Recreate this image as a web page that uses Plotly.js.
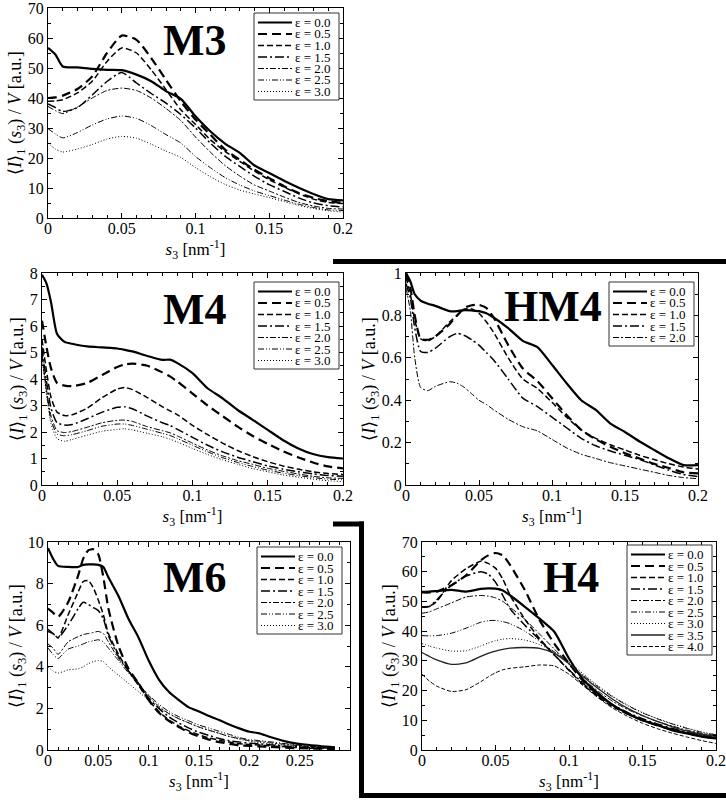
<!DOCTYPE html>
<html><head><meta charset="utf-8">
<script src="https://cdn.plot.ly/plotly-3.0.1.min.js"></script>
<style>html,body{margin:0;padding:0;background:#fff}#chart{width:726px;height:800px}</style>
</head><body><div id="chart"></div>
<script>
// ---------------- data ----------------
const epsLabels = ['ε = 0.0','ε = 0.5','ε = 1.0','ε = 1.5','ε = 2.0','ε = 2.5','ε = 3.0','ε = 3.5','ε = 4.0'];
const panelNames = ['M3','M4','HM4','M6','H4'];

// M3
const xM3 = [0,0.005,0.01,0.02,0.03,0.04,0.05,0.06,0.07,0.08,0.09,0.1,0.11,0.12,0.13,0.14,0.15,0.16,0.17,0.18,0.19,0.2];
const m3_e00 = [56.7,54.5,50.5,50.2,49.7,49.4,49.3,47.8,45.6,42.3,39.7,33.9,28.9,24.8,21.7,17.5,15,12.4,10.1,8,6.3,5.9];
const m3_e05 = [40,40.2,40.8,43,47.2,55,60.8,59.4,53.3,46,38.9,32.8,27.8,22.8,19.4,16.1,13.3,10.6,8.3,6.7,5.6,5];
const m3_e10 = [38.9,39,39.4,41.7,45.6,52.2,56.7,55,49.4,42.8,36.1,31.2,26.1,22.2,18.9,15.6,12.8,10.3,8.1,6.3,5.2,4.8];
const m3_e15 = [38,36.8,35.5,36.8,41,45.5,48.5,45,41.5,38.3,34.5,30,25,20.6,17.2,13.9,11.1,8.9,6.7,5,4.1,3.7];
const m3_e20 = [37.2,35.8,34.8,37,40,42.5,43.3,42.5,40,36.5,32.5,27,22,17.5,14,11,9,7,5.2,4,3.2,3];
const m3_e25 = [29.8,28,26.7,28.5,31,33,34,33.2,30.8,27.8,25,20.5,16.8,13.5,11,9,7.5,6,4.6,3.5,2.7,2.5];
const m3_e30 = [25,23,22,23,24.5,26.3,27.2,26.6,24.6,22.3,20.2,16.8,13.8,11.2,9.3,8,6.8,5.5,4.2,3.2,2.4,2];

// M4
const xM4 = [0,0.003,0.006,0.01,0.015,0.02,0.03,0.04,0.05,0.055,0.06,0.07,0.08,0.085,0.09,0.1,0.11,0.12,0.13,0.14,0.15,0.16,0.17,0.18,0.19,0.2];
const m4_e00 = [7.93,7.6,6.9,5.7,5.4,5.33,5.23,5.19,5.15,5.1,5.04,4.87,4.72,4.73,4.6,4.22,3.65,3.27,2.83,2.46,2.08,1.7,1.39,1.17,1.05,1.0];
const m4_e05 = [6.2,5.2,4.4,3.85,3.75,3.73,3.85,4.15,4.45,4.55,4.58,4.5,4.25,4.1,3.9,3.45,3.0,2.6,2.2,1.85,1.55,1.28,1.05,0.85,0.7,0.63];
const m4_e10 = [5.5,4.3,3.3,2.75,2.62,2.65,2.9,3.3,3.62,3.68,3.6,3.3,2.95,2.8,2.65,2.25,1.9,1.58,1.3,1.07,0.88,0.72,0.6,0.5,0.43,0.4];
const m4_e15 = [5.2,3.9,2.9,2.35,2.26,2.28,2.5,2.75,2.93,2.95,2.88,2.6,2.35,2.25,2.1,1.8,1.5,1.25,1.05,0.88,0.72,0.6,0.5,0.42,0.36,0.33];
const m4_e20 = [5.0,3.6,2.6,2.05,1.98,2.02,2.18,2.35,2.44,2.45,2.4,2.2,2.05,1.97,1.85,1.58,1.32,1.1,0.92,0.78,0.63,0.52,0.42,0.33,0.27,0.25];
const m4_e25 = [4.9,3.5,2.45,1.92,1.86,1.9,2.05,2.22,2.3,2.3,2.25,2.1,1.95,1.87,1.75,1.5,1.25,1.03,0.85,0.7,0.56,0.45,0.36,0.28,0.22,0.2];
const m4_e30 = [4.8,3.4,2.3,1.75,1.65,1.72,1.88,2.03,2.1,2.12,2.08,1.95,1.82,1.73,1.62,1.38,1.15,0.95,0.78,0.62,0.5,0.38,0.3,0.22,0.16,0.13];

// HM4
const xHM4 = [0,0.003,0.006,0.01,0.015,0.02,0.03,0.035,0.04,0.045,0.05,0.055,0.06,0.07,0.08,0.09,0.1,0.11,0.12,0.13,0.14,0.15,0.16,0.17,0.18,0.19,0.2];
const hm4_e00 = [1.0,0.96,0.9,0.87,0.855,0.845,0.82,0.82,0.825,0.823,0.82,0.81,0.79,0.74,0.68,0.65,0.567,0.48,0.4,0.354,0.29,0.25,0.205,0.165,0.126,0.094,0.094];
const hm4_e05 = [1.0,0.93,0.8,0.69,0.685,0.7,0.76,0.8,0.835,0.848,0.85,0.835,0.79,0.66,0.55,0.49,0.41,0.33,0.26,0.215,0.18,0.15,0.125,0.1,0.08,0.06,0.055];
const hm4_e10 = [0.98,0.9,0.78,0.69,0.68,0.7,0.77,0.8,0.83,0.83,0.81,0.77,0.72,0.6,0.5,0.455,0.39,0.32,0.26,0.22,0.19,0.165,0.14,0.12,0.1,0.085,0.075];
const hm4_e15 = [0.95,0.88,0.74,0.63,0.625,0.645,0.7,0.715,0.705,0.685,0.66,0.625,0.59,0.5,0.41,0.37,0.32,0.27,0.22,0.185,0.16,0.14,0.12,0.095,0.07,0.05,0.04];
const hm4_e20 = [0.93,0.82,0.6,0.46,0.445,0.465,0.487,0.48,0.46,0.43,0.4,0.38,0.355,0.31,0.275,0.255,0.215,0.175,0.145,0.125,0.105,0.09,0.075,0.06,0.045,0.035,0.03];

// M6
const xM6 = [0,0.005,0.01,0.02,0.03,0.035,0.04,0.045,0.05,0.055,0.06,0.07,0.08,0.09,0.1,0.11,0.12,0.13,0.14,0.15,0.16,0.17,0.18,0.19,0.2,0.21,0.22,0.24,0.26,0.285];
const m6_e00 = [9.7,9.2,8.85,8.8,8.8,8.9,8.92,8.92,8.9,8.8,8.3,7.4,6.3,5.4,4.3,3.4,2.8,2.4,2.05,1.85,1.63,1.44,1.23,1.04,0.88,0.8,0.64,0.37,0.24,0.13];
const m6_e05 = [6.8,6.6,6.4,7.1,8.4,9.2,9.6,9.65,9.4,8.3,6.8,5.0,3.9,3.2,2.4,1.8,1.4,1.1,0.85,0.65,0.5,0.38,0.3,0.22,0.2,0.17,0.15,0.1,0.07,0.05];
const m6_e10 = [5.7,5.6,5.4,6.5,7.6,8.1,8.15,7.8,7.2,6.5,5.6,4.6,3.8,3.1,2.4,1.85,1.45,1.15,0.92,0.73,0.58,0.47,0.38,0.3,0.27,0.24,0.2,0.14,0.09,0.06];
const m6_e15 = [5.8,5.6,5.4,6.0,6.8,7.1,7.0,6.85,6.7,6.3,5.5,4.5,3.8,3.2,2.5,2.0,1.6,1.3,1.05,0.85,0.7,0.55,0.45,0.38,0.33,0.3,0.25,0.17,0.12,0.08];
const m6_e20 = [5.1,4.9,4.6,5.2,5.45,5.55,5.6,5.65,5.7,5.6,5.2,4.4,3.8,3.2,2.6,2.1,1.75,1.5,1.3,1.1,0.95,0.8,0.65,0.55,0.45,0.42,0.35,0.25,0.15,0.1];
const m6_e25 = [4.9,4.6,4.4,4.85,5.0,5.1,5.2,5.25,5.3,5.2,4.9,4.3,3.7,3.15,2.65,2.2,1.85,1.6,1.4,1.2,1.05,0.9,0.75,0.6,0.5,0.45,0.4,0.28,0.18,0.12];
const m6_e30 = [4.0,3.8,3.7,3.85,3.9,4.0,4.15,4.25,4.3,4.25,4.0,3.6,3.2,2.8,2.4,2.05,1.75,1.5,1.3,1.1,0.95,0.8,0.65,0.52,0.42,0.36,0.3,0.2,0.13,0.08];

// H4
const xH4 = [0,0.005,0.01,0.02,0.03,0.04,0.045,0.05,0.055,0.06,0.07,0.08,0.09,0.1,0.11,0.12,0.13,0.14,0.15,0.16,0.17,0.18,0.19,0.2];
const h4_e00 = [53.2,53.3,53.5,53.9,53.3,54.2,54.4,54.3,53.7,52,48.2,44.2,39.8,30.8,23.5,19,15.1,12.3,10,8.4,6.7,5.6,4.5,3.9];
const h4_e05 = [53,53,53.3,55.4,58.8,63.8,65.5,66.3,65.5,62.2,53.8,43.7,35.8,29.1,23,18.5,15,12.2,10,8.3,6.9,5.7,4.7,3.9];
const h4_e10 = [48.2,48.4,50,57,61,63.5,62.8,61.2,57.5,52,44,37.5,32,26.8,21.8,17.8,14.5,12,10,8.3,6.9,5.7,4.7,3.9];
const h4_e15 = [48,48.3,50.5,55.5,58.5,60,59.2,56.5,52,47.5,42,37,32,27,22.2,18.3,15.1,12.6,10.5,8.8,7.3,6,5,4.2];
const h4_e20 = [46,46.5,47.5,49.5,51.5,52,51.8,51.2,50,48,44,39,34,28.8,23.8,19.7,16.3,13.6,11.5,9.6,8.1,6.7,5.6,4.8];
const h4_e25 = [38.5,38.4,38.5,39.3,41,43,43.5,43.6,43.2,42.5,40,36.5,33,29.2,25,21.2,17.8,14.9,12.5,10.5,8.8,7.3,6,5.1];
const h4_e30 = [35.8,35,34.3,33.3,33.4,35,36,36.8,37.3,37.5,37,35.5,33,29.6,25.5,21.5,18,15.1,12.6,10.6,8.9,7.4,6.1,5.1];
const h4_e35 = [32.8,31.5,30.3,28.8,29.3,31.5,32.5,33.3,33.9,34.3,34.5,34.2,32.5,29,24.6,20.6,17,14,11.6,9.6,7.9,6.4,5.3,4.5];
const h4_e40 = [25.5,23.2,21.5,19.7,20.3,23,24.6,26,27,27.5,28,28.6,28.3,25.5,21.5,17.5,14,11.3,9,7.2,5.7,4.4,3.2,2.2];

const seriesM3 = [m3_e00,m3_e05,m3_e10,m3_e15,m3_e20,m3_e25,m3_e30];
const seriesM4 = [m4_e00,m4_e05,m4_e10,m4_e15,m4_e20,m4_e25,m4_e30];
const seriesHM4 = [hm4_e00,hm4_e05,hm4_e10,hm4_e15,hm4_e20];
const seriesM6 = [m6_e00,m6_e05,m6_e10,m6_e15,m6_e20,m6_e25,m6_e30];
const seriesH4 = [h4_e00,h4_e05,h4_e10,h4_e15,h4_e20,h4_e25,h4_e30,h4_e35,h4_e40];

// ---------------- styles / layout ----------------
const W = 726, H = 800;
const px = v => v / W;
const py = v => 1 - v / H;
const FONT = 'Liberation Serif, Times New Roman, Times, serif';

const lineStyles = [
  {width:2.2, dash:'solid', color:'#000'},
  {width:2.2, dash:'9px,5px', color:'#000'},
  {width:1.5, dash:'6px,3px', color:'#000'},
  {width:1.5, dash:'9px,3px,2px,3px', color:'#000'},
  {width:1, dash:'6px,2px,2px,2px', color:'#000'},
  {width:1, dash:'6px,2px,1px,2px,1px,2px', color:'#000'},
  {width:1, dash:'1px,2px', color:'#000'},
  {width:1.3, dash:'solid', color:'#222'},
  {width:1, dash:'4px,2px', color:'#000'}
];

// pad = trailing no-break spaces that shift the rotated y title along its axis
const panels = [
  {x:xM3, ys:seriesM3, box:[48,343,8,218], xr:[0,0.2], yr:[0,70], ydt:10, ymin:5, xticks:[0,0.05,0.1,0.15,0.2], lab:[195,40], leg:[254,13], pad:8},
  {x:xM4, ys:seriesM4, box:[42,343,273,485], xr:[0,0.2], yr:[0,8], ydt:1, ymin:0.5, xticks:[0,0.05,0.1,0.15,0.2], lab:[195,310], leg:[254,282], pad:2},
  {x:xHM4, ys:seriesHM4, box:[406,698,273,485], xr:[0,0.2], yr:[0,1], ydt:0.2, ymin:0.1, xticks:[0,0.05,0.1,0.15,0.2], lab:[553,306], leg:[609,282], pad:0},
  {x:xM6, ys:seriesM6, box:[48,350,542,750], xr:[0,0.3], yr:[0,10], ydt:2, ymin:1, xticks:[0,0.05,0.1,0.15,0.2,0.25], lab:[195,577], leg:[257,547], pad:8},
  {x:xH4, ys:seriesH4, box:[422,716,542,750], xr:[0,0.2], yr:[0,70], ydt:10, ymin:5, xticks:[0,0.05,0.1,0.15,0.2], lab:[571,577], leg:[627,545], pad:8}
];

const yTitle = '⟨<i>I</i>⟩<sub>1</sub> (<i>s</i><sub>3</sub>) / <i>V</i> [a.u.]';
const xTitle = '<i>s</i><sub>3</sub> [nm<sup>-1</sup>]';

const traces = [];
const layout = {
  width: W, height: H,
  margin: {l:0, r:0, t:0, b:0},
  paper_bgcolor: '#fff', plot_bgcolor: '#fff',
  showlegend: false,
  font: {family: FONT, size: 16, color: '#000'},
  shapes: [], annotations: []
};

panels.forEach((p, k) => {
  const n = k + 1;
  const xa = 'x' + (n === 1 ? '' : n), ya = 'y' + (n === 1 ? '' : n);
  const xk = 'xaxis' + (n === 1 ? '' : n), yk = 'yaxis' + (n === 1 ? '' : n);
  p.ys.forEach((ys, i) => {
    traces.push({
      x: p.x, y: ys, xaxis: xa, yaxis: ya, mode: 'lines', name: epsLabels[i],
      line: {color: lineStyles[i].color, width: lineStyles[i].width, dash: lineStyles[i].dash, shape: 'spline', smoothing: 0.6},
      hoverinfo: 'skip'
    });
  });
  const common = {
    showline: true, linecolor: '#000', linewidth: 1, mirror: 'ticks',
    ticks: 'inside', ticklen: 5, tickwidth: 1, tickcolor: '#000',
    showgrid: false, zeroline: false, fixedrange: true,
    ticklabeloverflow: 'allow',
    tickfont: {family: FONT, size: 16, color: '#000'}
  };
  layout[xk] = Object.assign({}, common, {
    domain: [px(p.box[0]), px(p.box[1])], range: p.xr, anchor: ya,
    tickmode: 'array', tickvals: p.xticks, ticktext: p.xticks.map(v => String(v)),
    ticklabelstandoff: -4,
    minor: {tickmode: 'linear', tick0: 0, dtick: 0.01, ticks: 'inside', ticklen: 3, tickcolor: '#000', showgrid: false},
    title: {text: xTitle, font: {family: FONT, size: 17}, standoff: 2}
  });
  layout[yk] = Object.assign({}, common, {
    domain: [py(p.box[3]), py(p.box[2])], range: p.yr, anchor: xa,
    tickmode: 'linear', tick0: 0, dtick: p.ydt,
    minor: {tickmode: 'linear', tick0: 0, dtick: p.ymin, ticks: 'inside', ticklen: 3, tickcolor: '#000', showgrid: false},
    title: {text: yTitle + '\u00A0'.repeat(p.pad), font: {family: FONT, size: 18}, standoff: 0}
  });
  // panel label
  layout.annotations.push({xref:'paper', yref:'paper', x: px(p.lab[0]), y: py(p.lab[1]), xanchor:'center', yanchor:'middle',
    text: '<b>' + panelNames[k] + '</b>', showarrow:false, font:{family: FONT, size: 44, color:'#000'}});
  // compact legend drawn in the panel corner
  const L = p.leg[0], T = p.leg[1], step = 11.5, nE = p.ys.length;
  layout.shapes.push({type:'rect', xref:'paper', yref:'paper', x0: px(L), x1: px(L+85), y0: py(T), y1: py(T + nE*step + 6.5),
    line:{color:'#333', width:1}, fillcolor:'#fff', layer:'above'});
  for (let i = 0; i < nE; i++) {
    const yy = T + 9.5 + step*i;
    layout.shapes.push({type:'line', xref:'paper', yref:'paper', x0: px(L+4), x1: px(L+38), y0: py(yy), y1: py(yy),
      line:{color: lineStyles[i].color, width: lineStyles[i].width, dash: lineStyles[i].dash}});
    layout.annotations.push({xref:'paper', yref:'paper', x: px(L+40), y: py(yy), xanchor:'left', yanchor:'middle',
      text: epsLabels[i], showarrow:false, borderpad:0, font:{family: FONT, size: 13, color:'#000'}});
  }
});

// thick separator lines
const thick = {color:'#000', width:5};
layout.shapes.push(
  {type:'line', xref:'paper', yref:'paper', x0:px(333), x1:px(726), y0:py(261.5), y1:py(261.5), line:thick},
  {type:'line', xref:'paper', yref:'paper', x0:px(333), x1:px(364), y0:py(524), y1:py(524), line:thick},
  {type:'line', xref:'paper', yref:'paper', x0:px(361.5), x1:px(361.5), y0:py(521.5), y1:py(798), line:thick},
  {type:'line', xref:'paper', yref:'paper', x0:px(359), x1:px(726), y0:py(795.5), y1:py(795.5), line:thick}
);

Plotly.newPlot('chart', traces, layout, {displayModeBar:false, staticPlot:true});
</script>
</body></html>
